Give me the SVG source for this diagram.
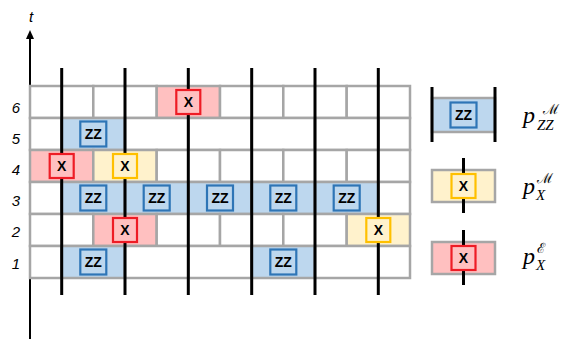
<svg xmlns="http://www.w3.org/2000/svg" width="569" height="339" viewBox="0 0 569 339">
<style>
.cell{stroke:#A6A6A6;stroke-width:2.5;fill:#FFFFFF}
.b{fill:#BDD7EE}
.p{fill:#FFC0C0}
.y{fill:#FFF2CC}
.wire{stroke:#000;stroke-width:3;fill:none}
.gz{fill:#BDD7EE;stroke:#2E75B6;stroke-width:2.2}
.gr{fill:#FFC0C0;stroke:#EE1C25;stroke-width:2.2}
.gy{fill:#FFF2CC;stroke:#FFC000;stroke-width:2.2}
.gt{font-family:"Liberation Sans",Arial,sans-serif;font-weight:bold;font-size:14px;text-anchor:middle;fill:#000}
.rl{font-family:"Liberation Sans",Arial,sans-serif;font-style:italic;font-size:15px;text-anchor:middle;fill:#000}
.lp{font-family:"Liberation Serif","Times New Roman",serif;font-style:italic;font-size:24px;fill:#000}
.ls{font-family:"Liberation Serif","Times New Roman",serif;font-style:italic;font-size:15px;fill:#000}
.lu{font-family:"DejaVu Serif","Liberation Serif",serif;font-size:14px;fill:#000}
</style>
<rect width="569" height="339" fill="#FFFFFF"/>
<!-- axis -->
<g id="axis">
<line x1="30" y1="339" x2="30" y2="38" stroke="#000" stroke-width="2"/>
<path d="M26,39 L30,30 L34,39 Z" fill="#000"/>
<text x="31" y="22" class="rl" font-size="16">t</text>
<text x="16" y="112.7" class="rl">6</text>
<text x="16" y="144" class="rl">5</text>
<text x="16" y="175" class="rl">4</text>
<text x="16" y="206" class="rl">3</text>
<text x="16" y="237" class="rl">2</text>
<text x="16" y="268.5" class="rl">1</text>
</g>
<!-- grid -->
<g id="grid">
<!-- row 6 -->
<rect class="cell" x="30" y="86" width="63.3" height="32"/>
<rect class="cell" x="93.3" y="86" width="63.4" height="32"/>
<rect class="cell p" x="156.7" y="86" width="63.3" height="32"/>
<rect class="cell" x="220" y="86" width="63.3" height="32"/>
<rect class="cell" x="283.3" y="86" width="63.4" height="32"/>
<rect class="cell" x="346.7" y="86" width="63.3" height="32"/>
<!-- row 5 -->
<rect class="cell" x="30" y="118" width="31.7" height="32"/>
<rect class="cell b" x="61.7" y="118" width="63.3" height="32"/>
<rect class="cell" x="125" y="118" width="63.3" height="32"/>
<rect class="cell" x="188.3" y="118" width="63.4" height="32"/>
<rect class="cell" x="251.7" y="118" width="63.3" height="32"/>
<rect class="cell" x="315" y="118" width="63.3" height="32"/>
<rect class="cell" x="378.3" y="118" width="31.7" height="32"/>
<!-- row 4 -->
<rect class="cell p" x="30" y="150" width="63.3" height="32"/>
<rect class="cell y" x="93.3" y="150" width="63.4" height="32"/>
<rect class="cell" x="156.7" y="150" width="63.3" height="32"/>
<rect class="cell" x="220" y="150" width="63.3" height="32"/>
<rect class="cell" x="283.3" y="150" width="63.4" height="32"/>
<rect class="cell" x="346.7" y="150" width="63.3" height="32"/>
<!-- row 3 -->
<rect class="cell" x="30" y="182" width="31.7" height="32"/>
<rect class="cell b" x="61.7" y="182" width="63.3" height="32"/>
<rect class="cell b" x="125" y="182" width="63.3" height="32"/>
<rect class="cell b" x="188.3" y="182" width="63.4" height="32"/>
<rect class="cell b" x="251.7" y="182" width="63.3" height="32"/>
<rect class="cell b" x="315" y="182" width="63.3" height="32"/>
<rect class="cell" x="378.3" y="182" width="31.7" height="32"/>
<!-- row 2 -->
<rect class="cell" x="30" y="214" width="63.3" height="32"/>
<rect class="cell p" x="93.3" y="214" width="63.4" height="32"/>
<rect class="cell" x="156.7" y="214" width="63.3" height="32"/>
<rect class="cell" x="220" y="214" width="63.3" height="32"/>
<rect class="cell" x="283.3" y="214" width="63.4" height="32"/>
<rect class="cell y" x="346.7" y="214" width="63.3" height="32"/>
<!-- row 1 -->
<rect class="cell" x="30" y="246" width="31.7" height="32"/>
<rect class="cell b" x="61.7" y="246" width="63.3" height="32"/>
<rect class="cell" x="125" y="246" width="63.3" height="32"/>
<rect class="cell" x="188.3" y="246" width="63.4" height="32"/>
<rect class="cell b" x="251.7" y="246" width="63.3" height="32"/>
<rect class="cell" x="315" y="246" width="63.3" height="32"/>
<rect class="cell" x="378.3" y="246" width="31.7" height="32"/>
</g>
<!-- qubit wires -->
<g id="connectors">
<line class="wire" x1="61.7" y1="68" x2="61.7" y2="295"/>
<line class="wire" x1="125" y1="68" x2="125" y2="295"/>
<line class="wire" x1="188.3" y1="68" x2="188.3" y2="295"/>
<line class="wire" x1="251.7" y1="68" x2="251.7" y2="295"/>
<line class="wire" x1="315" y1="68" x2="315" y2="295"/>
<line class="wire" x1="378.3" y1="68" x2="378.3" y2="295"/>
</g>
<!-- gates -->
<g id="g6x"><rect class="gr" x="176.3" y="90" width="24" height="24"/><text class="gt" x="188.3" y="107">X</text></g>
<g id="g5zz"><rect class="gz" x="80.3" y="121.5" width="26" height="25"/><text class="gt" x="93.3" y="139">ZZ</text></g>
<g id="g4x1"><rect class="gr" x="49.7" y="154" width="24" height="24"/><text class="gt" x="61.7" y="171">X</text></g>
<g id="g4x2"><rect class="gy" x="113" y="154" width="24" height="24"/><text class="gt" x="125" y="171">X</text></g>
<g id="g3zz1"><rect class="gz" x="80.3" y="185.5" width="26" height="25"/><text class="gt" x="93.3" y="203">ZZ</text></g>
<g id="g3zz2"><rect class="gz" x="143.7" y="185.5" width="26" height="25"/><text class="gt" x="156.7" y="203">ZZ</text></g>
<g id="g3zz3"><rect class="gz" x="207" y="185.5" width="26" height="25"/><text class="gt" x="220" y="203">ZZ</text></g>
<g id="g3zz4"><rect class="gz" x="270.3" y="185.5" width="26" height="25"/><text class="gt" x="283.3" y="203">ZZ</text></g>
<g id="g3zz5"><rect class="gz" x="333.7" y="185.5" width="26" height="25"/><text class="gt" x="346.7" y="203">ZZ</text></g>
<g id="g2x1"><rect class="gr" x="113" y="218" width="24" height="24"/><text class="gt" x="125" y="235">X</text></g>
<g id="g2x2"><rect class="gy" x="366.3" y="218" width="24" height="24"/><text class="gt" x="378.3" y="235">X</text></g>
<g id="g1zz1"><rect class="gz" x="80.3" y="249.5" width="26" height="25"/><text class="gt" x="93.3" y="267">ZZ</text></g>
<g id="g1zz2"><rect class="gz" x="270.3" y="249.5" width="26" height="25"/><text class="gt" x="283.3" y="267">ZZ</text></g>
<!-- legend -->
<g id="legend-zz">
<rect class="cell b" x="432" y="98" width="63" height="34"/>
<line class="wire" x1="432" y1="87" x2="432" y2="142"/>
<line class="wire" x1="495" y1="87" x2="495" y2="142"/>
<rect class="gz" x="450.5" y="102.5" width="26" height="25"/><text class="gt" x="463.5" y="120">ZZ</text>
<text class="lp" x="523" y="123">p</text>
<text class="ls" x="537" y="130">ZZ</text>
<text class="lu" x="543" y="114">ℳ</text>
</g>
<g id="legend-xm">
<rect class="cell y" x="432" y="170" width="63" height="32"/>
<line class="wire" x1="463.5" y1="158" x2="463.5" y2="213"/>
<rect class="gy" x="451.5" y="174" width="24" height="24"/><text class="gt" x="463.5" y="191">X</text>
<text class="lp" x="523" y="194">p</text>
<text class="ls" x="536" y="200">X</text>
<text class="lu" x="537" y="183">ℳ</text>
</g>
<g id="legend-xe">
<rect class="cell p" x="432" y="242" width="63" height="32"/>
<line class="wire" x1="463.5" y1="230" x2="463.5" y2="285"/>
<rect class="gr" x="451.5" y="246" width="24" height="24"/><text class="gt" x="463.5" y="263">X</text>
<text class="lp" x="523" y="264">p</text>
<text class="ls" x="536" y="270">X</text>
<text class="lu" x="537" y="253">ℰ</text>
</g>
</svg>
